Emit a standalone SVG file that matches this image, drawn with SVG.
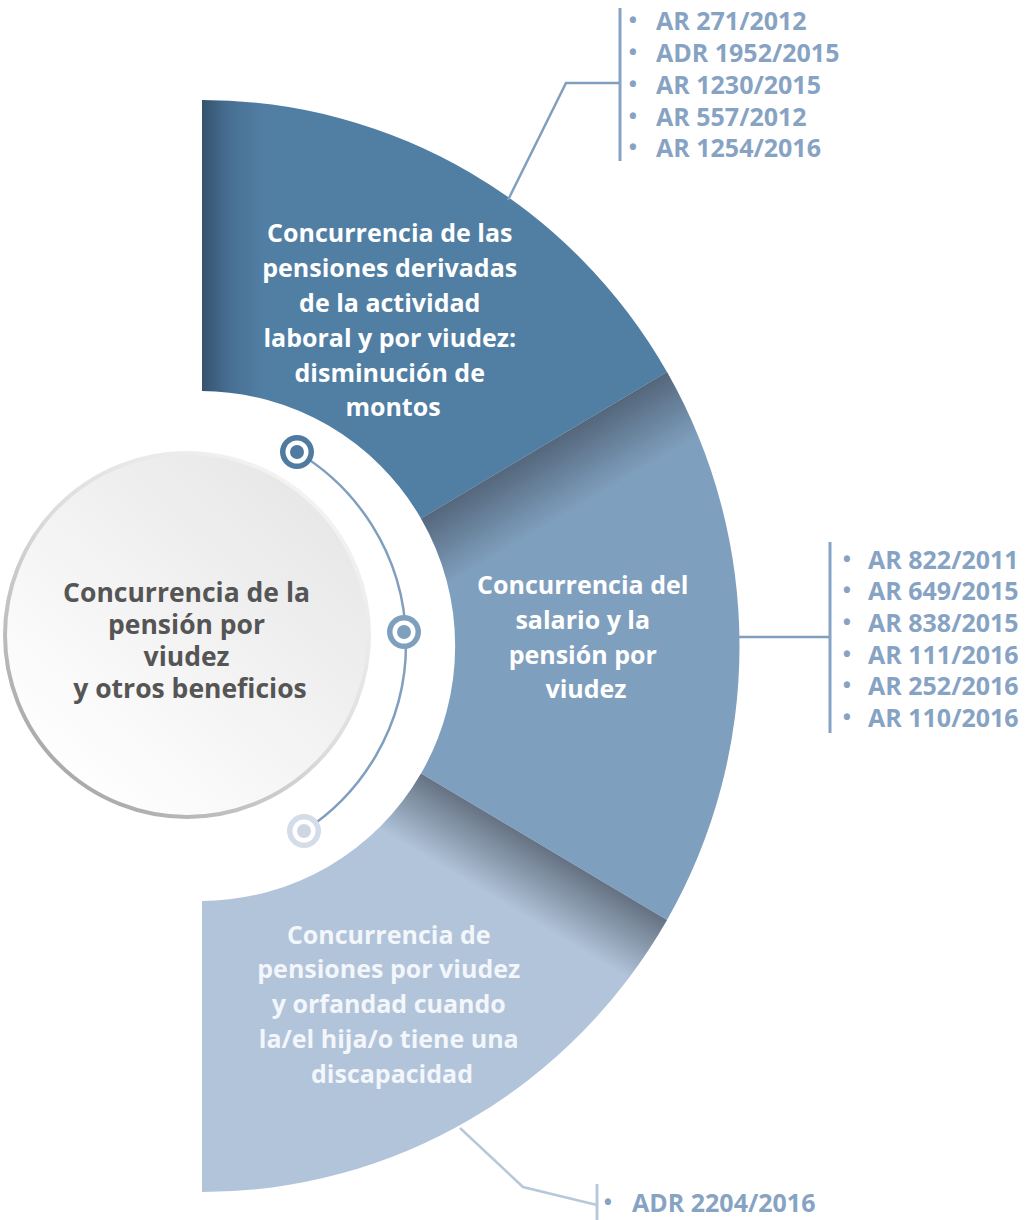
<svg xmlns="http://www.w3.org/2000/svg" width="1030" height="1220" viewBox="0 0 1030 1220">
  <defs>
    <style>
      .seg-text { font-family: "Open Sans", "Liberation Sans", sans-serif; font-weight: 700; font-size: 25px; fill: #ffffff; text-anchor: middle; }
      .seg-text-light { fill: #f3f6fa; }
      .center-text { font-family: "Open Sans", "Liberation Sans", sans-serif; font-weight: 700; font-size: 26.5px; fill: #555555; text-anchor: middle; }
      .ref { font-family: "Open Sans", "Liberation Sans", sans-serif; font-weight: 700; font-size: 25px; fill: #87a3c4; }
      .bullet { font-family: "Open Sans", "Liberation Sans", sans-serif; font-weight: 700; font-size: 22px; fill: #87a3c4; text-anchor: middle; }
      .conn { fill: none; stroke: #809fbf; stroke-width: 2.5; }
      .conn-light { fill: none; stroke: #b8c8dc; stroke-width: 2.5; }
    </style>
    <linearGradient id="topLeftShade" gradientUnits="userSpaceOnUse" x1="202" y1="0" x2="262" y2="0">
      <stop offset="0" stop-color="#35536e"/>
      <stop offset="0.45" stop-color="#476f93"/>
      <stop offset="1" stop-color="#517ea3"/>
    </linearGradient>
    <linearGradient id="midShade" gradientUnits="userSpaceOnUse" x1="544" y1="445" x2="580" y2="506">
      <stop offset="0" stop-color="#3a4452" stop-opacity="0.62"/>
      <stop offset="1" stop-color="#3a4452" stop-opacity="0"/>
    </linearGradient>
    <linearGradient id="botShade" gradientUnits="userSpaceOnUse" x1="544" y1="846" x2="508" y2="906">
      <stop offset="0" stop-color="#3a4452" stop-opacity="0.65"/>
      <stop offset="1" stop-color="#3a4452" stop-opacity="0"/>
    </linearGradient>
    <linearGradient id="circFill" x1="0.85" y1="0.1" x2="0.15" y2="0.9">
      <stop offset="0" stop-color="#e7e7e7"/>
      <stop offset="1" stop-color="#ffffff"/>
    </linearGradient>
    <linearGradient id="circStroke" x1="0.15" y1="0.9" x2="0.85" y2="0.1">
      <stop offset="0" stop-color="#a8a8a8"/>
      <stop offset="0.5" stop-color="#dcdcdc"/>
      <stop offset="1" stop-color="#f4f4f4"/>
    </linearGradient>
  </defs>

  <rect x="0" y="0" width="1030" height="1220" fill="#ffffff"/>

  <!-- Segment: top -->
  <g id="seg-top">
    <path d="M202,100 A537,546 0 0 1 667,372 L421,518.5 A255,255 0 0 0 202,391 Z" fill="url(#topLeftShade)"/>
    <text class="seg-text">
      <tspan x="393" y="242">Concurrencia de las</tspan>
      <tspan x="393" y="277">pensiones derivadas</tspan>
      <tspan x="393" y="312">de la actividad</tspan>
      <tspan x="393" y="347">laboral y por viudez:</tspan>
      <tspan x="393" y="382">disminución de</tspan>
      <tspan x="393" y="416">montos</tspan>
    </text>
  </g>

  <!-- Segment: middle -->
  <g id="seg-mid">
    <path d="M667,372 A537,546 0 0 1 667,920 L421,773.5 A255,255 0 0 0 421,518.5 Z" fill="#7f9fbe"/>
    <path d="M667,372 A537,546 0 0 1 667,920 L421,773.5 A255,255 0 0 0 421,518.5 Z" fill="url(#midShade)"/>
    <text class="seg-text">
      <tspan x="586" y="594">Concurrencia del</tspan>
      <tspan x="586" y="629">salario y la</tspan>
      <tspan x="586" y="664">pensión por</tspan>
      <tspan x="586" y="698">viudez</tspan>
    </text>
  </g>

  <!-- Segment: bottom -->
  <g id="seg-bottom">
    <path d="M667,920 A537,546 0 0 1 202,1192 L202,901 A255,255 0 0 0 421,773.5 Z" fill="#b1c4da"/>
    <path d="M667,920 A537,546 0 0 1 202,1192 L202,901 A255,255 0 0 0 421,773.5 Z" fill="url(#botShade)"/>
    <text class="seg-text seg-text-light">
      <tspan x="392" y="944">Concurrencia de</tspan>
      <tspan x="392" y="978">pensiones por viudez</tspan>
      <tspan x="392" y="1013">y orfandad cuando</tspan>
      <tspan x="392" y="1048">la/el hija/o tiene una</tspan>
      <tspan x="392" y="1083">discapacidad</tspan>
    </text>
  </g>

  <!-- Center node -->
  <g id="center">
    <circle cx="187" cy="635" r="182" fill="url(#circFill)" stroke="url(#circStroke)" stroke-width="4"/>
    <text class="center-text">
      <tspan x="190" y="602">Concurrencia de la</tspan>
      <tspan x="190" y="634">pensión por</tspan>
      <tspan x="190" y="666">viudez</tspan>
      <tspan x="190" y="698">y otros beneficios</tspan>
    </text>
  </g>

  <!-- Connectors -->
  <g id="connectors">
    <path class="conn" d="M297,452 A223,223 0 0 1 304,831"/>
    <polyline class="conn" points="508,200 566,83 620,83"/>
    <line class="conn" x1="737" y1="637" x2="830" y2="637"/>
    <polyline class="conn-light" points="460,1128 523,1187 597,1205"/>
  </g>

  <!-- Timeline markers -->
  <g id="marker-1">
    <circle cx="297" cy="452" r="17" fill="#4f7ba1"/>
    <circle cx="297" cy="452" r="11.5" fill="#ffffff"/>
    <circle cx="297" cy="452" r="7" fill="#4f7ba1"/>
  </g>
  <g id="marker-2">
    <circle cx="404" cy="632" r="17" fill="#7f9fbe"/>
    <circle cx="404" cy="632" r="11.5" fill="#ffffff"/>
    <circle cx="404" cy="632" r="7" fill="#7f9fbe"/>
  </g>
  <g id="marker-3">
    <circle cx="304" cy="831" r="17" fill="#d3dce8"/>
    <circle cx="304" cy="831" r="11.5" fill="#ffffff"/>
    <circle cx="304" cy="831" r="7" fill="#cdd7e4"/>
  </g>

  <!-- Reference list: top -->
  <g id="refs-top">
    <line x1="620" y1="8" x2="620" y2="161" stroke="#87a3c4" stroke-width="3"/>
    <text class="bullet" x="633" y="28">•</text>
    <text class="bullet" x="633" y="60">•</text>
    <text class="bullet" x="633" y="92">•</text>
    <text class="bullet" x="633" y="124">•</text>
    <text class="bullet" x="633" y="155">•</text>
    <text class="ref" x="656" y="30">AR 271/2012</text>
    <text class="ref" x="656" y="62">ADR 1952/2015</text>
    <text class="ref" x="656" y="94">AR 1230/2015</text>
    <text class="ref" x="656" y="126">AR 557/2012</text>
    <text class="ref" x="656" y="157">AR 1254/2016</text>
  </g>

  <!-- Reference list: middle -->
  <g id="refs-mid">
    <line x1="830" y1="542" x2="830" y2="733" stroke="#87a3c4" stroke-width="3"/>
    <text class="bullet" x="847" y="567">•</text>
    <text class="bullet" x="847" y="598">•</text>
    <text class="bullet" x="847" y="630">•</text>
    <text class="bullet" x="847" y="662">•</text>
    <text class="bullet" x="847" y="693">•</text>
    <text class="bullet" x="847" y="725">•</text>
    <text class="ref" x="868" y="569">AR 822/2011</text>
    <text class="ref" x="868" y="600">AR 649/2015</text>
    <text class="ref" x="868" y="632">AR 838/2015</text>
    <text class="ref" x="868" y="664">AR 111/2016</text>
    <text class="ref" x="868" y="695">AR 252/2016</text>
    <text class="ref" x="868" y="727">AR 110/2016</text>
  </g>

  <!-- Reference list: bottom -->
  <g id="refs-bottom">
    <line x1="597" y1="1184" x2="597" y2="1220" stroke="#b8c8dc" stroke-width="3"/>
    <text class="bullet" x="608" y="1210">•</text>
    <text class="ref" x="632" y="1212">ADR 2204/2016</text>
  </g>
</svg>
